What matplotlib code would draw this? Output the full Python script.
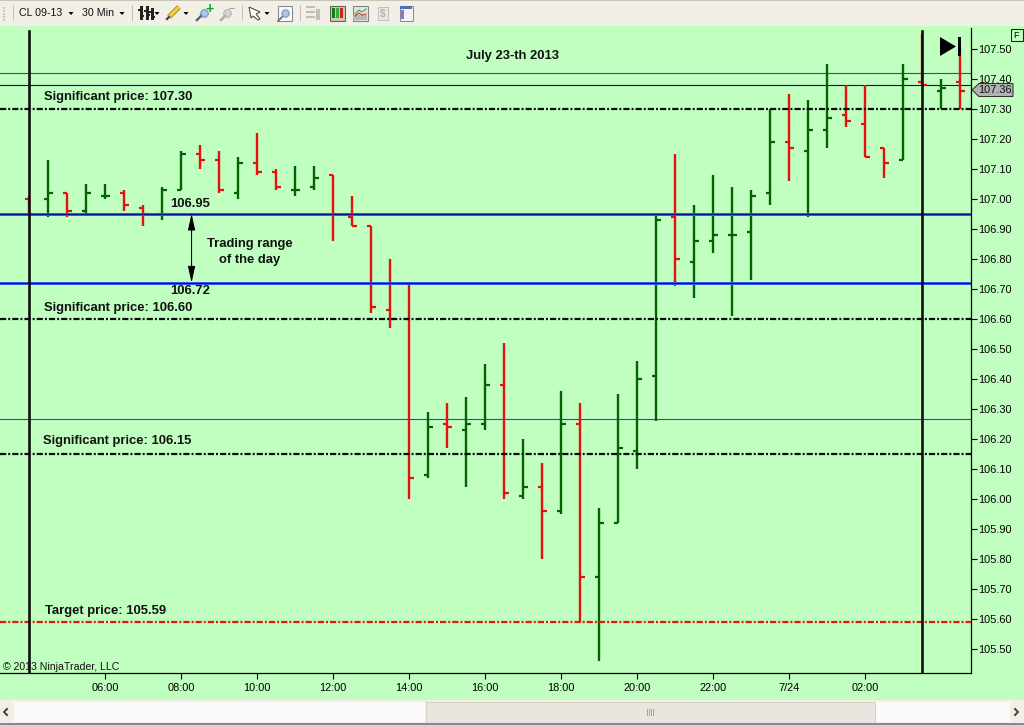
import matplotlib
matplotlib.use('Agg')
import matplotlib.pyplot as plt
from matplotlib.patches import Rectangle, Polygon

plt.rcParams['font.family'] = ['Liberation Sans', 'DejaVu Sans']

#############################################################################
# Data #
bar_hours = [4.0, 4.5, 5.0, 5.5, 6.0, 6.5, 7.0, 7.5, 8.0, 8.5,
             9.0, 9.5, 10.0, 10.5, 11.0, 11.5, 12.0, 12.5, 13.0, 13.5,
             14.0, 14.5, 15.0, 15.5, 16.0, 16.5, 17.0, 17.5, 18.0, 18.5,
             19.0, 19.5, 20.0, 20.5, 21.0, 21.5, 22.0, 22.5, 23.0, 23.5,
             24.0, 24.5, 25.0, 25.5, 26.0, 26.5, 27.0, 27.5, 28.0, 28.5]
opens = [107.00, 107.00, 107.02, 106.96, 107.01, 107.02, 106.97, 106.95, 107.03, 107.15,
         107.13, 107.02, 107.12, 107.09, 107.03, 107.04, 107.08, 106.94, 106.91, 106.63,
         106.60, 106.08, 106.25, 106.23, 106.25, 106.38, 106.01, 106.04, 105.96, 106.25,
         105.74, 105.92, 106.16, 106.41, 106.94, 106.79, 106.86, 106.88, 106.89, 107.02,
         107.19, 107.16, 107.23, 107.28, 107.25, 107.17, 107.13, 107.39, 107.36, 107.39]
highs = [107.01, 107.13, 107.02, 107.05, 107.05, 107.03, 106.98, 107.04, 107.16, 107.18,
         107.16, 107.14, 107.22, 107.10, 107.11, 107.11, 107.08, 107.01, 106.91, 106.80,
         106.72, 106.29, 106.32, 106.34, 106.45, 106.52, 106.20, 106.12, 106.36, 106.32,
         105.97, 106.35, 106.46, 106.95, 107.15, 106.98, 107.08, 107.04, 107.03, 107.30,
         107.35, 107.33, 107.45, 107.38, 107.38, 107.17, 107.45, 107.55, 107.40, 107.50]
lows = [106.95, 106.94, 106.94, 106.95, 107.00, 106.96, 106.91, 106.93, 107.03, 107.10,
        107.02, 107.00, 107.08, 107.03, 107.01, 107.03, 106.86, 106.91, 106.62, 106.57,
        106.00, 106.07, 106.17, 106.04, 106.23, 106.00, 106.00, 105.80, 105.95, 105.59,
        105.46, 105.92, 106.10, 106.26, 106.71, 106.67, 106.82, 106.61, 106.73, 106.98,
        107.06, 106.94, 107.17, 107.24, 107.14, 107.07, 107.13, 107.38, 107.30, 107.30]
closes = [106.95, 107.02, 106.96, 107.02, 107.01, 106.98, 106.95, 107.03, 107.15, 107.13,
          107.03, 107.12, 107.09, 107.04, 107.03, 107.07, 106.95, 106.91, 106.64, 106.60,
          106.07, 106.24, 106.24, 106.25, 106.38, 106.02, 106.04, 105.96, 106.25, 105.74,
          105.92, 106.17, 106.40, 106.93, 106.80, 106.86, 106.88, 106.88, 107.01, 107.19,
          107.17, 107.23, 107.27, 107.26, 107.14, 107.12, 107.40, 107.38, 107.37, 107.36]
# red / green is not simply close vs open here, so read it bar by bar
bar_up = [0, 1, 0, 1, 1, 0, 0, 1, 1, 0,
          0, 1, 0, 0, 1, 1, 0, 0, 0, 0,
          0, 1, 0, 1, 1, 0, 1, 0, 1, 0,
          1, 1, 1, 1, 0, 1, 1, 1, 1, 1,
          0, 1, 1, 0, 0, 0, 1, 0, 1, 0]

significant_prices = [107.30, 106.60, 106.15]
target_price = 105.59
range_prices = [106.95, 106.72]
thin_blue_price = 107.38
purple_prices = [107.42, 106.265]
day_lines = [4.0, 27.5]
last_price = 107.36

y_ticks = [107.50, 107.40, 107.30, 107.20, 107.10, 107.00, 106.90, 106.80, 106.70, 106.60,
           106.50, 106.40, 106.30, 106.20, 106.10, 106.00, 105.90, 105.80, 105.70, 105.60, 105.50]
x_ticks = [6, 8, 10, 12, 14, 16, 18, 20, 22, 24, 26]
x_labels = ['06:00', '08:00', '10:00', '12:00', '14:00', '16:00', '18:00', '20:00', '22:00', '7/24', '02:00']

GREEN_BG = '#c0ffc0'
RED = '#e8100c'
DARK_GREEN = '#006400'
W, H = 1024, 725
PX_HOUR = 38.0     # one hour of chart width in pixels
PX_PRICE = 300.0   # one dollar of chart height in pixels


#############################################################################
# Chart #
def plot_chart(fig):
    # axes box in pixels: 0..971 across, 28..673 down
    ax = fig.add_axes([0, (H-673)/H, 971/W, (673-28)/H], facecolor=GREEN_BG)
    ax.set_xlim(6-105.3/PX_HOUR, 6+(971-105.3)/PX_HOUR)
    ax.set_ylim(107-(673-198.7)/PX_PRICE, 107+(198.7-28)/PX_PRICE)

    dash_dot = (0, (2.8, 0.9, 0.9, 0.9))

    # level lines
    for p in purple_prices:
        ax.axhline(p, color='#6424e0', lw=0.8, zorder=1)
    ax.axhline(thin_blue_price, color='#0000c8', lw=0.8, zorder=1)
    for p in range_prices:
        ax.axhline(p, color='#3a5cf0', lw=2.16, zorder=4)
        ax.axhline(p, color='#0010a0', lw=0.8, zorder=4)
    for p in significant_prices:
        ax.axhline(p, color='#0a0a0a', lw=1.6, ls=dash_dot, zorder=4)
    ax.axhline(target_price, color='#e01810', lw=1.6, ls=dash_dot, zorder=4)

    # OHLC bars
    tick = 4.5/PX_HOUR
    for t, o, hi, lo, c, up in zip(bar_hours, opens, highs, lows, closes, bar_up):
        col = DARK_GREEN if up else RED
        ax.vlines(t, lo, hi, color=col, lw=1.7, zorder=3)
        ax.hlines(o, t-tick, t, color=col, lw=1.6, zorder=3)
        ax.hlines(c, t, t+tick, color=col, lw=1.6, zorder=3)

    # session lines, stop just short of the top
    for t in day_lines:
        ax.axvline(t, ymin=0, ymax=(673-31)/(673-28), color='#101010', lw=1.9, zorder=5)

    # trading range arrow
    ax.annotate('', xy=(8.27, range_prices[0]), xytext=(8.27, range_prices[1]),
                arrowprops=dict(arrowstyle='<|-|>,head_length=1.0,head_width=0.22', color='black',
                                lw=0.75, shrinkA=0, shrinkB=0), zorder=6)

    ax.set_xticks(x_ticks, x_labels)
    ax.set_yticks(y_ticks, [f'{v:.2f}' for v in y_ticks])
    ax.yaxis.tick_right()
    ax.tick_params(axis='x', length=4, width=0.8, pad=3.4, labelsize=7.9)
    ax.tick_params(axis='y', length=4.5, width=0.8, pad=0.5, labelsize=7.9)
    for s in ['top', 'left']:
        ax.spines[s].set_visible(False)
    for s in ['bottom', 'right']:
        ax.spines[s].set_linewidth(0.9)
    return ax


#############################################################################
# Window chrome, in screen pixels #
def plot_chrome(fig):
    ov = fig.add_axes([0, 0, 1, 1], zorder=5)
    ov.set_xlim(0, W)
    ov.set_ylim(H, 0)
    ov.axis('off')
    ov.patch.set_alpha(0)

    def rect(x, y, w, h, fc, ec='none', lw=0.75):
        ov.add_patch(Rectangle((x, y), w, h, fc=fc, ec=ec, lw=lw))

    # toolbar
    rect(0, 0, W, 26, '#f1efe6')
    rect(0, 0, W, 1, '#c8c5b8')
    for y in [7, 10, 13, 16, 19]:
        rect(3, y, 2, 1.5, '#c8c8c0')
    for x in [13, 132, 242, 300]:
        rect(x, 5, 1, 16, '#c4c1b4')
    ov.text(19, 13, 'CL 09-13', fontsize=7.7, va='center', color='#111111')
    ov.text(82, 13, '30 Min', fontsize=7.7, va='center', color='#111111')
    for x in [71, 122, 157, 186, 267]:
        ov.add_patch(Polygon([(x-2.5, 12), (x+2.5, 12), (x, 15)], fc='black'))
    # bars icon
    for x, y0, y1 in [(140, 6, 20), (146, 6, 20), (151, 8, 20)]:
        rect(x, y0, 2.5, y1-y0, '#222222')
    for x, y in [(138, 9), (142, 15), (144, 10), (148, 14), (149, 11), (153, 16)]:
        rect(x, y, 2, 2, '#222222')
    # pencil
    ov.plot([169, 179], [17, 7], color='#a08020', lw=3.6, solid_capstyle='butt')
    ov.plot([169, 179], [17, 7], color='#f0d040', lw=2.4, solid_capstyle='butt')
    ov.plot([167, 169], [19, 17], color='#444444', lw=1.6)
    # zoom in / zoom out
    ov.plot([197, 201], [20, 16], color='#5a6a80', lw=1.8)
    ov.scatter([204], [13], s=30, c='#a8c8e8', edgecolors='#7090b0', linewidths=0.7)
    ov.text(209, 8.5, '+', fontsize=10, fontweight='bold', color='#10a030', ha='center', va='center')
    ov.plot([221, 225], [20, 16], color='#b0b0b0', lw=1.8)
    ov.scatter([227], [13], s=30, c='#d4d4d4', edgecolors='#b0b0b0', linewidths=0.7)
    rect(229, 8, 6, 1, '#a8a8a8')
    # pointer
    ov.add_patch(Polygon([(249, 7), (260, 12), (256, 14), (260, 19), (258, 20), (253, 16), (251, 18)],
                         fc='white', ec='#444444', lw=0.75))
    rect(278, 6, 14, 15, '#f8f8f8', '#888888')
    ov.plot([278, 282], [21, 17], color='#5a6a80', lw=1.2)
    ov.scatter([285], [13], s=28, c='#a8c8e8', edgecolors='#7090b0', linewidths=0.7)
    # data series, chart style, indicators buttons
    rect(306, 6, 9, 2, '#c0c0b8')
    rect(306, 11, 9, 2, '#c0c0b8')
    rect(306, 16, 9, 2, '#c0c0b8')
    rect(316, 9, 4, 11, '#c0c0b8')
    rect(329.5, 5.5, 15, 15, '#c8c8b8', '#606060')
    for x, c in [(333, '#108010'), (337, '#30b030'), (341, '#d02020')]:
        rect(x-1, 8, 2.5, 10, c)
    rect(352.5, 5.5, 15, 15, '#e4e4dc', '#808080')
    rect(353, 15, 14, 5, '#b8b8b0')
    ov.plot([355, 359, 362, 366], [14, 10, 12, 9], color='#50a050', lw=0.8)
    ov.plot([355, 359, 362, 366], [16, 13, 15, 14], color='#c04040', lw=0.8)
    rect(378, 7, 10, 13, '#e8e8e4', '#c0c0c0')
    ov.text(383, 13.5, r'\$', fontsize=7, fontweight='bold', color='#b0b0b0', ha='center', va='center')
    rect(399.5, 5.5, 13, 15, '#f4f4f4', '#8090a0')
    rect(400, 6, 12, 3, '#5070b0')
    rect(401, 10, 3, 9, '#9070d8')

    # scrollbar
    rect(0, 700, W, 25, '#f1efe6')
    rect(14, 702, 411, 20, '#fbfaf8')
    rect(875, 702, 135, 20, '#fbfaf8')
    rect(426, 701.5, 449, 21, '#e8e6de', '#d4d0c4')
    rect(0, 723, W, 2, '#7f8c9c')
    ov.plot([7, 4, 7], [709, 712, 715], color='#404040', lw=1.4)
    ov.plot([1015, 1018, 1015], [709, 712, 715], color='#404040', lw=1.4)
    for x in [647, 649, 651, 653]:
        rect(x, 709, 1, 7, '#a8a498')

    # chart labels
    bold = dict(fontsize=9.35, fontweight='bold', color='#101010', va='center')
    ov.text(512, 56, 'July 23-th 2013', ha='center', **bold)
    ov.text(44, 97, 'Significant price: 107.30', **bold)
    ov.text(44, 307.5, 'Significant price: 106.60', **bold)
    ov.text(43, 441, 'Significant price: 106.15', **bold)
    ov.text(45, 611, 'Target price: 105.59', **bold)
    ov.text(170, 204, '106.95', **bold)
    ov.text(170, 291, '106.72', **bold)
    ov.text(250, 243.5, 'Trading range', ha='center', **bold)
    ov.text(250, 259.5, 'of the day', ha='center', **bold)
    ov.text(3, 667, '\u00a9 2013 NinjaTrader, LLC', fontsize=7.6, va='center', color='#111111')

    # last price marker
    ov.add_patch(Polygon([(972, 90), (979, 83.5), (1013, 83.5), (1013, 96.5), (979, 96.5)],
                         fc='#b2b2b2', ec='#303030', lw=0.75))
    ov.text(978.5, 90, f'{last_price:.2f}', fontsize=7.9, va='center', color='#111111')

    # F button and go-to-end button
    rect(1010.5, 29, 12, 12, GREEN_BG, '#202020')
    ov.text(1016.5, 35, 'F', fontsize=6.5, ha='center', va='center', color='black')
    ov.add_patch(Polygon([(940, 37), (956, 46.5), (940, 56)], fc='black'))
    rect(958, 37, 3, 19, 'black')


#############################################################################
# Main #
def main():
    fig = plt.figure(figsize=(W/100, H/100), dpi=100, facecolor=GREEN_BG)
    plot_chart(fig)
    plot_chrome(fig)
    fig.savefig('out.png', dpi=100, facecolor=GREEN_BG)


if __name__ == '__main__':
    main()
